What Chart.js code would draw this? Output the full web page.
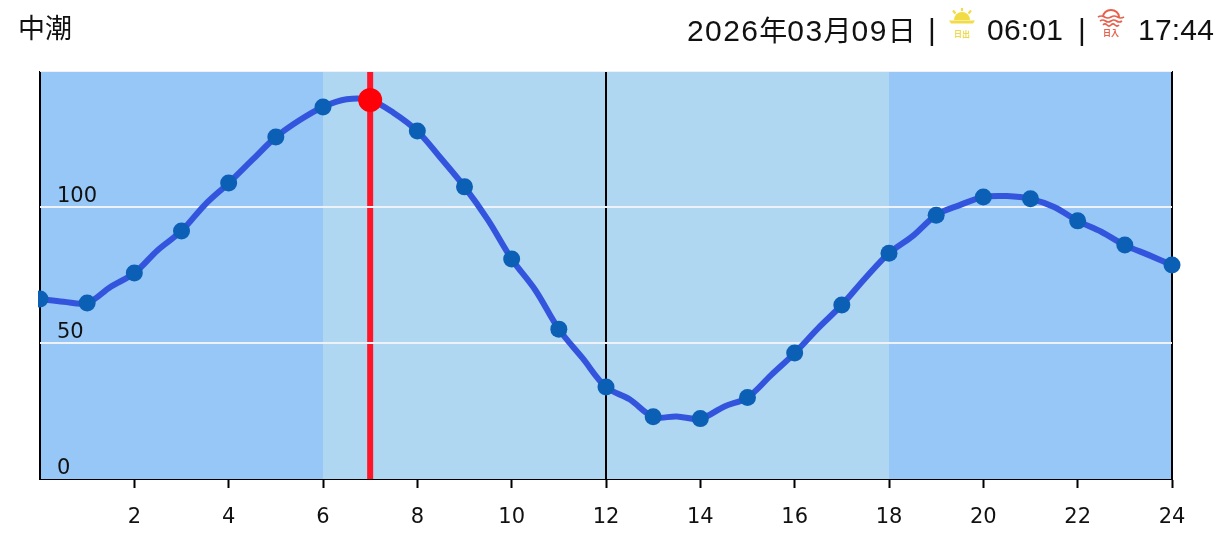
<!DOCTYPE html>
<html lang="ja">
<head>
<meta charset="utf-8">
<title>中潮</title>
<script src="https://cdn.jsdelivr.net/npm/chart.js@4/dist/chart.umd.min.js"></script>
<style>
  html, body { margin: 0; padding: 0; background: #fff; }
  #page { position: relative; width: 1231px; height: 541px; overflow: hidden; color: #111; }
  #tide { position: absolute; left: 0; top: 0; }
  .head { position: absolute; white-space: nowrap; line-height: 1; font-family: "Liberation Sans", "Noto Sans CJK JP", sans-serif; }
  .kanji { font-family: "Noto Sans CJK JP", sans-serif; font-size: 27px; letter-spacing: 0; }
  .num { font-size: 30px; letter-spacing: 0.2px; }
  .date { letter-spacing: 1.4px; }
  .date .kanji { font-size: 28px; }
  .head svg { display: block; }
</style>
</head>
<body>
<div id="page">
  <canvas id="tide" width="1231" height="541"></canvas>
  <div class="head kanji" style="left:18px;top:13px;">中潮</div>
  <div class="head num date" style="left:687px;top:15px;">2026<span class="kanji">年</span>03<span class="kanji">月</span>09<span class="kanji">日</span></div>
  <div class="head num" style="left:928px;top:15px;">|</div>
  <div class="head" style="left:947px;top:5px;">
    <svg width="30" height="36" viewBox="0 0 30 36">
      <path d="M7 15 a8 8 0 0 1 16 0 z" fill="#f2dc45"/>
      <path d="M2 15.5 H28 L26 18.5 H4 z" fill="#f2dc45"/>
      <path d="M15 3 V6 M6 5.5 L8.5 8.5 M24 5.5 L21.5 8.5" stroke="#f2dc45" stroke-width="2.2" fill="none"/>
      <text x="15" y="32" text-anchor="middle" font-size="8" font-weight="700" font-family="Noto Sans CJK JP" fill="#eed94a">日出</text>
    </svg>
  </div>
  <div class="head num" style="left:987px;top:15px;">06:01</div>
  <div class="head num" style="left:1078px;top:15px;">|</div>
  <div class="head" style="left:1096px;top:5px;">
    <svg width="30" height="36" viewBox="0 0 30 36">
      <path d="M7 12 a8 7 0 0 1 16 0" stroke="#e8604c" stroke-width="2" fill="none"/>
      <path d="M2 12 q3.2 -2 6.5 0 t6.5 0 t6.5 0 t6.5 0 M4 16 q2.8 -2 5.5 0 t5.5 0 t5.5 0 t5.5 0 M7 20 q2 -2 4 0 t4 0 t4 0 t4 0" stroke="#e8604c" stroke-width="1.7" fill="none"/>
      <text x="15" y="31" text-anchor="middle" font-size="8" font-weight="700" font-family="Noto Sans CJK JP" fill="#e8604c">日入</text>
    </svg>
  </div>
  <div class="head num" style="left:1138px;top:15px;">17:44</div>
</div>
<script>
// readings, one per hour and one between each pair of hours
const hours = [0, 1, 2, 3, 4, 5, 6, 7, 8, 9, 10, 11, 12, 13, 14, 15, 16, 17, 18, 19, 20, 21, 22, 23, 24];
const hourLevels = [66.2, 64.7, 75.7, 91.2, 108.8, 125.7, 136.8, 139.3, 127.9, 107.4, 80.9, 55.1, 33.8, 22.9, 22.2, 30, 46.3, 64, 83, 97, 103.7, 103, 94.9, 86, 78.7];
const halfHourLevels = [65.2, 70.7, 84.2, 100.9, 117.3, 131.9, 139.6, 134.6, 117.9, 95.2, 69.5, 44.5, 29.3, 23, 26.6, 38.2, 55.5, 73.9, 89.3, 100.7, 104, 100, 90.9, 82.4];
const nowHour = 7;
const nowLevel = 139.3;
const nightBand = [0, 24];
const dayBand = [6, 18];
const gridLevels = [50, 100, 150];
const blackHours = [0, 12, 24];
const yMax = 150;
const xTickStep = 2;
const yTickStep = 50;

const tideLine = [];
hours.forEach((h, i) => {
  tideLine.push({ x: h, y: hourLevels[i] });
  if (i < halfHourLevels.length) tideLine.push({ x: h + 0.5, y: halfHourLevels[i] });
});

function bandDataset(range, color, order) {
  return {
    type: 'line',
    data: [{ x: range[0], y: yMax }, { x: range[1], y: yMax }],
    fill: 'origin',
    backgroundColor: color,
    borderWidth: 0,
    pointRadius: 0,
    order
  };
}

function verticalDataset(hour, color, width, order) {
  return {
    type: 'line',
    data: [{ x: hour, y: 0 }, { x: hour, y: yMax }],
    borderColor: color,
    borderWidth: width,
    pointRadius: 0,
    clip: false,
    order
  };
}

const datasets = [
  bandDataset(nightBand, '#97c7f7', 11),
  bandDataset(dayBand, '#b0d7f1', 10),
  ...blackHours.map((hour) => verticalDataset(hour, '#000', 2, 9)),
  verticalDataset(nowHour, '#ff1428', 6, 8),
  ...gridLevels.map((level) => ({
    type: 'line',
    data: [{ x: 0, y: level }, { x: 24, y: level }],
    borderColor: '#eef1f5',
    borderWidth: 2,
    pointRadius: 0,
    order: 7
  })),
  {
    type: 'line',
    data: tideLine,
    borderColor: '#3355dd',
    borderWidth: 6,
    tension: 0.35,
    pointRadius: 0,
    order: 3
  },
  {
    type: 'line',
    data: hours.map((h, i) => ({ x: h, y: hourLevels[i] })),
    showLine: false,
    pointRadius: 8.5,
    pointBorderWidth: 0,
    pointBackgroundColor: '#0b5fb5',
    clip: { left: 2, top: false, right: false, bottom: false },
    order: 2
  },
  {
    type: 'line',
    data: [{ x: nowHour, y: nowLevel }],
    showLine: false,
    pointRadius: 12,
    pointBorderWidth: 0,
    pointBackgroundColor: '#ff0008',
    clip: false,
    order: 1
  }
];

new Chart(document.getElementById('tide'), {
  type: 'line',
  data: { datasets },
  options: {
    responsive: false,
    animation: false,
    layout: { padding: { left: 40, right: 59, top: 71, bottom: 0 } },
    plugins: { legend: { display: false }, tooltip: { enabled: false } },
    scales: {
      x: {
        type: 'linear',
        min: 0,
        max: 24,
        afterFit: (scale) => { scale.height = 62; },
        grid: {
          drawOnChartArea: false,
          drawTicks: true,
          tickLength: 9,
          tickColor: (ctx) => (ctx.tick && ctx.tick.value === 0 ? 'rgba(0,0,0,0)' : '#000'),
          tickWidth: 2
        },
        border: { color: '#000', width: 2 },
        ticks: {
          stepSize: xTickStep,
          autoSkip: false,
          maxRotation: 0,
          padding: 17,
          color: '#111',
          font: { family: 'DejaVu Sans', size: 21 },
          callback: (value) => (value === 0 ? '' : value)
        }
      },
      y: {
        min: 0,
        max: yMax,
        afterFit: (scale) => { scale.width = 0; },
        grid: { display: false, drawTicks: false },
        border: { display: false },
        ticks: {
          z: 1,
          stepSize: yTickStep,
          mirror: true,
          padding: 17,
          labelOffset: -10,
          color: '#111',
          font: { family: 'DejaVu Sans', size: 21 },
          callback: (value) => (value === yMax ? '' : value)
        }
      }
    }
  }
});
</script>
</body>
</html>
